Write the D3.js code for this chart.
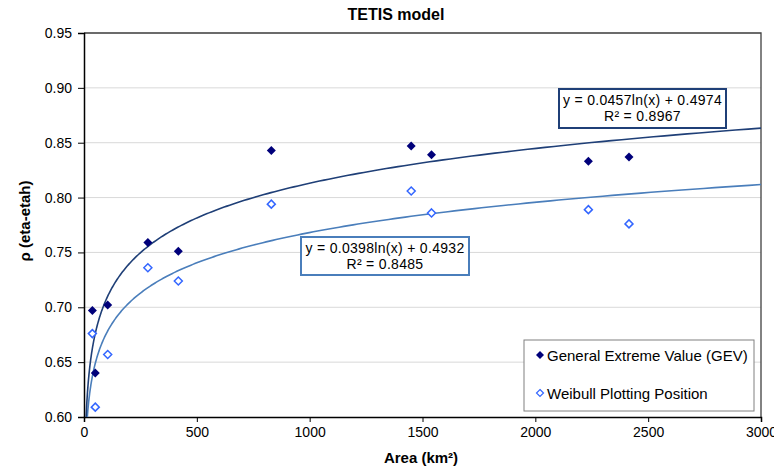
<!DOCTYPE html>
<html><head><meta charset="utf-8">
<script src="https://cdn.jsdelivr.net/npm/d3@7/dist/d3.min.js"></script>
<style>body{margin:0;background:#fff}svg{display:block;font-family:"Liberation Sans",Arial,sans-serif}</style>
</head><body><svg id="c" width="774" height="468"></svg>
<script>
const areas = [37, 50, 105, 283, 418, 830, 1450, 1540, 2235, 2415];
const gevValues = [0.697, 0.640, 0.702, 0.759, 0.751, 0.843, 0.847, 0.839, 0.833, 0.837];
const weibullValues = [0.676, 0.609, 0.657, 0.736, 0.724, 0.794, 0.806, 0.786, 0.789, 0.776];
const seriesNames = ["General Extreme Value (GEV)", "Weibull Plotting Position"];
const gevFit = {a: 0.0457, b: 0.4974, r2: "0.8967"};
const weibullFit = {a: 0.0398, b: 0.4932, r2: "0.8485"};
const xTicks = [0, 500, 1000, 1500, 2000, 2500, 3000];
const yTicks = [0.60, 0.65, 0.70, 0.75, 0.80, 0.85, 0.90, 0.95];
const title = "TETIS model";
const xTitle = "Area (km²)";
const yTitle = "ρ (eta-etah)";

const svg = d3.select("#c");
const L = 84, R = 761, T = 33, B = 417;
const x = d3.scaleLinear().domain([0, 3000]).range([L, R]);
const y = d3.scaleLinear().domain([0.60, 0.95]).range([B, T]);

const gevCol = "#00007A", weiCol = "#3366FF";
const gevLine = "#1F3F77", weiLine = "#4A7EBB";

// gridlines
svg.append("g").selectAll("line").data(yTicks.slice(1)).join("line")
  .attr("x1", L).attr("x2", R).attr("y1", d => y(d)).attr("y2", d => y(d))
  .attr("stroke", "#D9D9D9").attr("stroke-width", 1);

// plot border top/right
svg.append("path").attr("d", `M${L},${T}H${R}V${B}`).attr("fill", "none")
  .attr("stroke", "#404040").attr("stroke-width", 1.3);

// axes
const xAxis = svg.append("g").attr("transform", `translate(0,${B})`)
  .call(d3.axisBottom(x).tickValues(xTicks).tickSize(5).tickPadding(5).tickFormat(d3.format("d")));
const yAxis = svg.append("g").attr("transform", `translate(${L},0)`)
  .call(d3.axisLeft(y).tickValues(yTicks).tickSize(6).tickPadding(6).tickFormat(d3.format(".2f")));
[xAxis, yAxis].forEach(g => {
  g.select(".domain").attr("stroke", "#000").attr("stroke-width", 1.5);
  g.selectAll(".tick line").attr("stroke", "#000");
  g.selectAll(".tick text").attr("font-size", 14).attr("fill", "#000")
   .attr("font-family", "Liberation Sans, Arial, sans-serif");
});

// clip
svg.append("clipPath").attr("id", "clip").append("rect")
  .attr("x", L).attr("y", T).attr("width", R - L).attr("height", B - T);

// trendlines from displayed equations
function trend(fit) {
  const x0 = Math.exp((0.60 - fit.b) / fit.a);
  const xs = d3.range(0, 301).map(i => x0 * Math.pow(3000 / x0, i / 300));
  return xs.map(v => [v, fit.a * Math.log(v) + fit.b]);
}
const line = d3.line().x(d => x(d[0])).y(d => y(d[1]));
const gl = svg.append("g").attr("clip-path", "url(#clip)");
gl.append("path").attr("d", line(trend(weibullFit))).attr("fill", "none")
  .attr("stroke", weiLine).attr("stroke-width", 1.6);
gl.append("path").attr("d", line(trend(gevFit))).attr("fill", "none")
  .attr("stroke", gevLine).attr("stroke-width", 1.6);

const diamond = r => `M0,${-r}L${r},0L0,${r}L${-r},0Z`;

// points
svg.append("g").selectAll("path").data(areas).join("path")
  .attr("transform", (d, i) => `translate(${x(d)},${y(weibullValues[i])})`)
  .attr("d", diamond(4)).attr("fill", "#fff").attr("stroke", weiCol).attr("stroke-width", 1.5);
svg.append("g").selectAll("path").data(areas).join("path")
  .attr("transform", (d, i) => `translate(${x(d)},${y(gevValues[i])})`)
  .attr("d", diamond(4.5)).attr("fill", gevCol);

// equation boxes
function eqBox(fit, bx, by, bw, bh, col) {
  const g = svg.append("g");
  g.append("rect").attr("x", bx).attr("y", by).attr("width", bw).attr("height", bh)
    .attr("fill", "#fff").attr("stroke", col).attr("stroke-width", 2);
  g.append("text").attr("x", bx + bw / 2).attr("y", by + 15.5).attr("text-anchor", "middle")
    .attr("font-size", 14).attr("letter-spacing", 0.3)
    .text(`y = ${fit.a.toFixed(4)}ln(x) + ${fit.b.toFixed(4)}`);
  g.append("text").attr("x", bx + bw / 2).attr("y", by + 32).attr("text-anchor", "middle")
    .attr("font-size", 14).attr("letter-spacing", 0.3).text(`R² = ${fit.r2}`);
}
eqBox(gevFit, 559, 89, 167, 39, gevLine);
eqBox(weibullFit, 301, 237, 168, 38, weiLine);

// legend
const lg = svg.append("g");
lg.append("rect").attr("x", 524).attr("y", 340).attr("width", 230).attr("height", 71)
  .attr("fill", "#fff").attr("stroke", "#808080").attr("stroke-width", 1);
const legY = [355, 393];
lg.append("path").attr("transform", `translate(540,${legY[0]})`).attr("d", diamond(4)).attr("fill", gevCol);
lg.append("path").attr("transform", `translate(540,${legY[1]})`).attr("d", diamond(3.5))
  .attr("fill", "#fff").attr("stroke", weiCol).attr("stroke-width", 1.2);
seriesNames.forEach((n, i) => lg.append("text").attr("x", 547).attr("y", legY[i])
  .attr("dominant-baseline", "central").attr("font-size", 15).text(n));

// titles
svg.append("text").attr("x", 396).attr("y", 20).attr("text-anchor", "middle")
  .attr("font-size", 16).attr("font-weight", "bold").text(title);
svg.append("text").attr("x", 421).attr("y", 463).attr("text-anchor", "middle")
  .attr("font-size", 15).attr("font-weight", "bold").text(xTitle);
svg.append("text").attr("transform", "translate(24,221) rotate(-90)").attr("text-anchor", "middle")
  .attr("dominant-baseline", "central").attr("font-size", 15).attr("font-weight", "bold").text(yTitle);
</script></body></html>
